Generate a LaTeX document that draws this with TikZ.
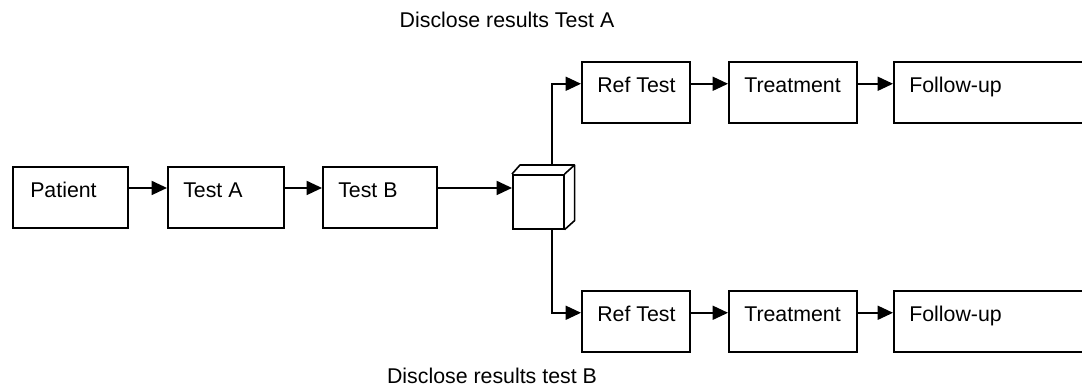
\documentclass[tikz,border=0pt]{standalone}
\usepackage{fontspec}
\setmainfont{Liberation Sans}
\usetikzlibrary{arrows.meta}
\begin{document}
\begin{tikzpicture}[x=0.75pt,y=-0.75pt,
  txt/.style={font=\fontsize{16}{18}\selectfont, inner sep=0pt},
  box/.style={draw, line width=1.2pt, minimum width=#1*0.75pt, minimum height=45.75pt, inner sep=0pt, anchor=north west},
  lab/.style={txt, anchor=base west, xshift=12pt},
  arr/.style={line width=1.2pt, -{Triangle[length=11.5pt,width=10.5pt]}},
  ln/.style={line width=1.2pt}
]
\useasboundingbox (0,0) rectangle (1082,388);
\fill[white] (0,0) rectangle (1082,388);
\clip (0,0) rectangle (1082,388);

% main row
\node[box=115, label={[lab, xshift=1.5pt]west:Patient}] (pat) at (12,166) {};
\node[box=116, label={[lab]west:Test A}] (ta) at (167,166) {};
\node[box=114, label={[lab]west:Test B}] (tb) at (322,166) {};

% cube
\node[draw, line width=1.2pt, minimum width=51*0.75pt, minimum height=54*0.75pt, inner sep=0pt, anchor=north west] (cube) at (512,174) {};
\draw[ln, line join=round] (cube.north west) -- ++(8,-9) -- ([shift={(10,-9)}]cube.north east) -- ([shift={(10,-9)}]cube.south east) -- (cube.south east);
\draw[ln] (cube.north east) -- ++(10,-9);

% top row
\node[box=108, label={[lab]west:Ref Test}] (rt1) at (581,61) {};
\node[box=128, label={[lab]west:Treatment}] (tr1) at (728,61) {};
\node[box=210, label={[lab]west:Follow-up}] (fu1) at (893,61) {};

% bottom row
\node[box=108, label={[lab]west:Ref Test}] (rt2) at (581,290) {};
\node[box=128, label={[lab]west:Treatment}] (tr2) at (728,290) {};
\node[box=210, label={[lab]west:Follow-up}] (fu2) at (893,290) {};

% connectors
\draw[arr] ([yshift=7pt]pat.east) -- ([yshift=7pt]pat.east -| ta.west);
\draw[arr] ([yshift=7pt]ta.east) -- ([yshift=7pt]ta.east -| tb.west);
\draw[arr] ([yshift=7pt]tb.east) -- ([yshift=7pt]tb.east -| cube.west);

\draw[arr] ([shift={(40,-9)}]cube.north west) |- ([yshift=6.4pt]rt1.west);
\draw[arr] ([xshift=30pt]cube.south west) |- ([yshift=6.4pt]rt2.west);

\draw[arr] ([yshift=6.4pt]rt1.east) -- ([yshift=6.4pt]rt1.east -| tr1.west);
\draw[arr] ([yshift=6.4pt]tr1.east) -- ([yshift=6.4pt]tr1.east -| fu1.west);
\draw[arr] ([yshift=6.4pt]rt2.east) -- ([yshift=6.4pt]rt2.east -| tr2.west);
\draw[arr] ([yshift=6.4pt]tr2.east) -- ([yshift=6.4pt]tr2.east -| fu2.west);

% labels
\node[txt] (discA) at (507,20) {Disclose results Test A};
\node[txt] (discB) at (492,376) {Disclose results test B};
\end{tikzpicture}
\end{document}
